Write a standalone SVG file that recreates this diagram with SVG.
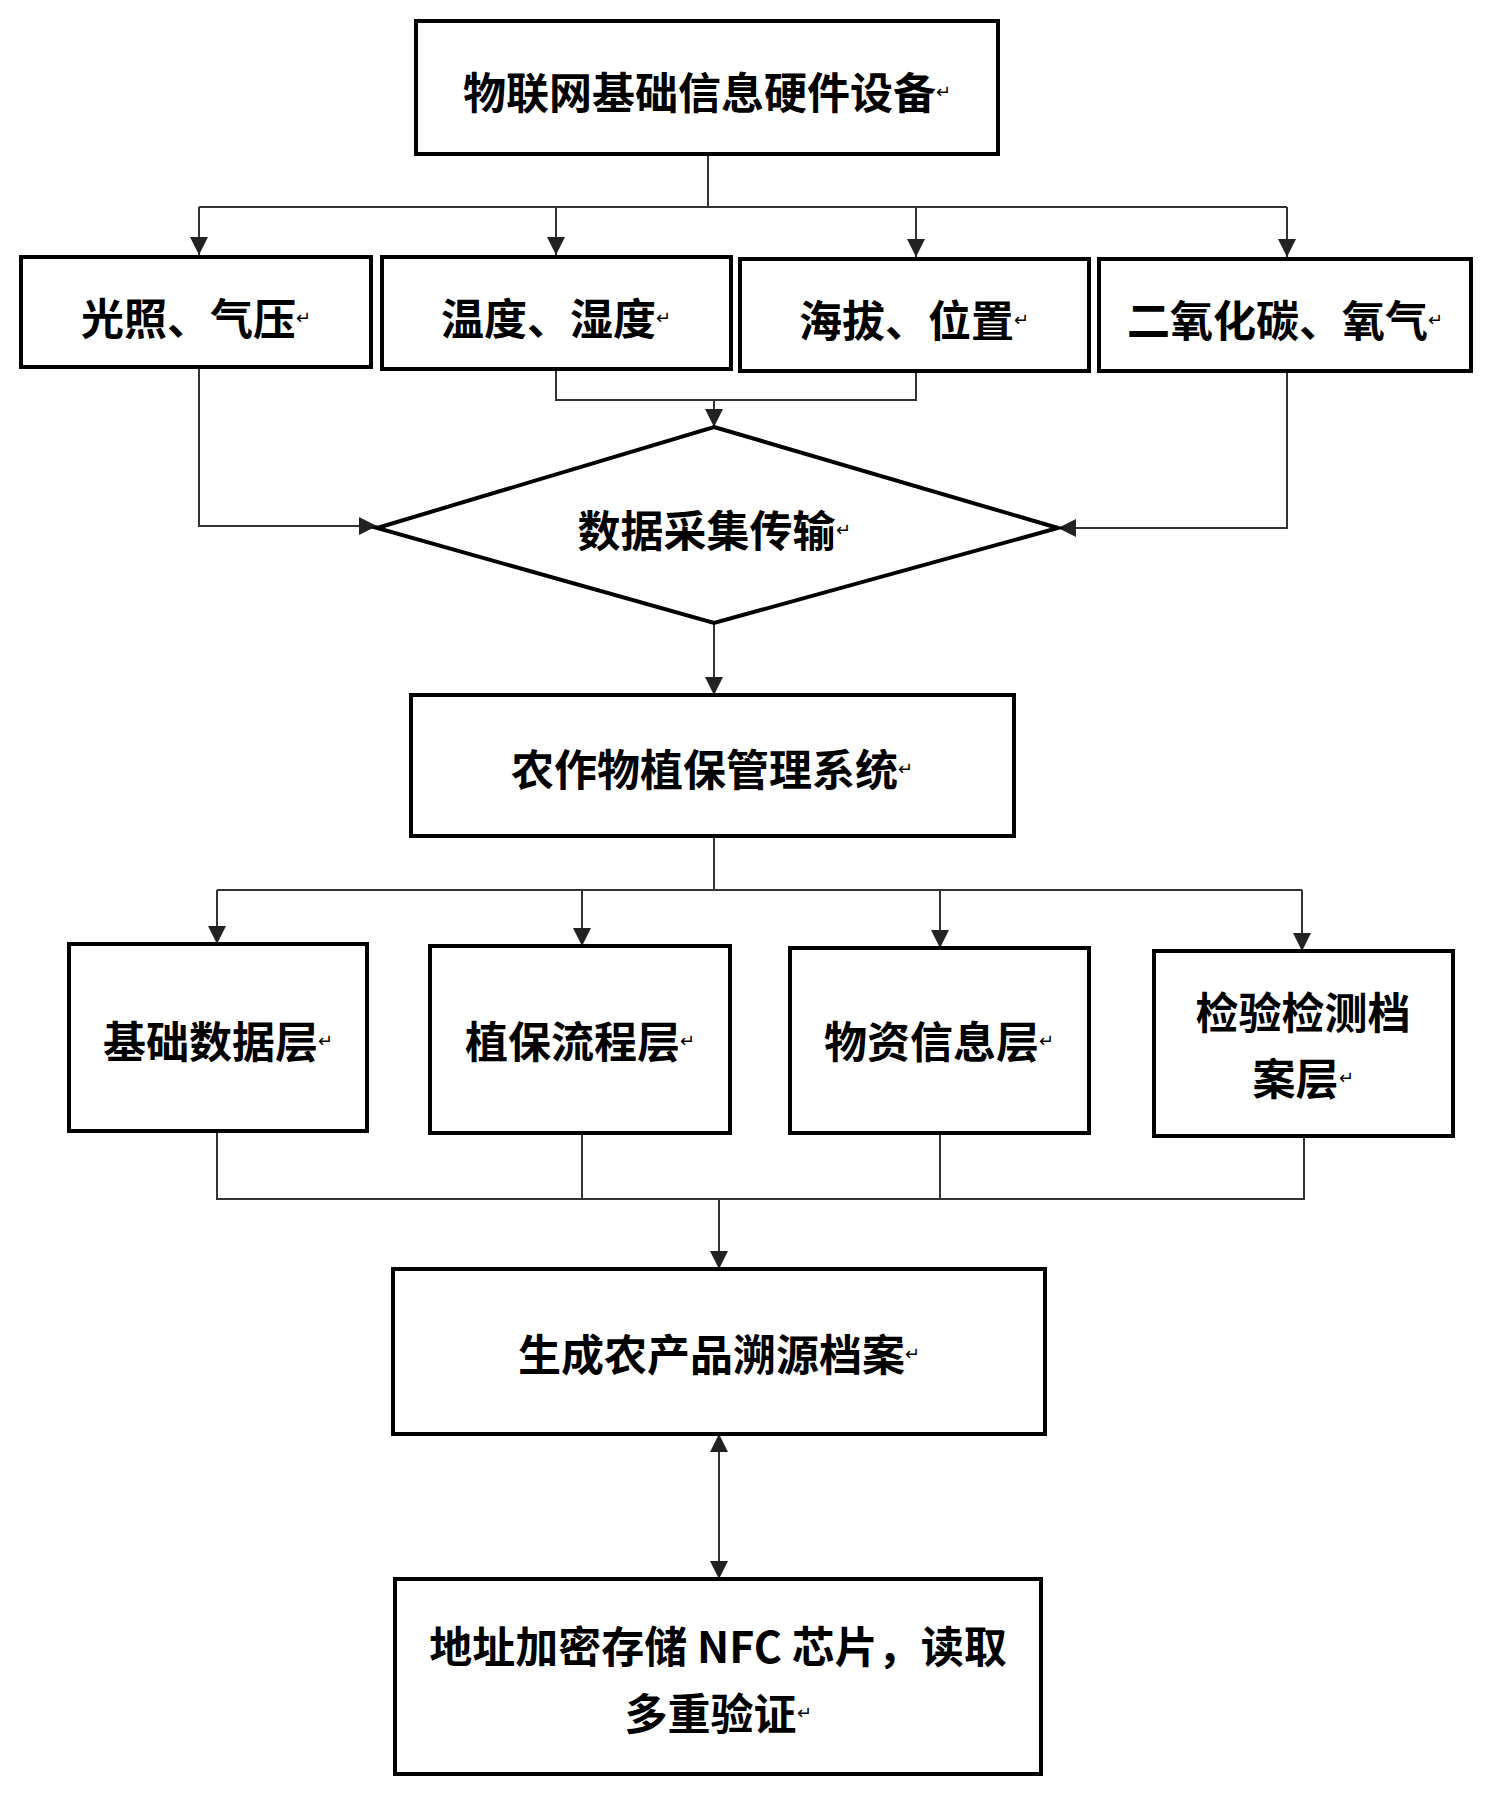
<svg xmlns="http://www.w3.org/2000/svg" width="1492" height="1804" viewBox="0 0 1492 1804">
<style>
.b{fill:#fff;stroke:#000;stroke-width:4}
.t{font-family:"Noto Sans CJK SC","Liberation Sans",sans-serif;font-size:43px;font-weight:bold;text-anchor:middle;dominant-baseline:central;fill:#000}
.r{font-size:18px;font-weight:normal}
.c{fill:none;stroke:#333;stroke-width:2}
</style>
<defs><marker id="m" viewBox="0 0 10 10" refX="10" refY="5" markerWidth="18" markerHeight="18" orient="auto-start-reverse" markerUnits="userSpaceOnUse"><path d="M0,0L10,5L0,10z" fill="#222"/></marker></defs>
<rect width="1492" height="1804" fill="#fff"/>
<g id="connectors">
<path class="c" d="M708,154V207M199,207H1287"/>
<path class="c" d="M199,207V255" marker-end="url(#m)"/>
<path class="c" d="M556,207V255" marker-end="url(#m)"/>
<path class="c" d="M916,207V257" marker-end="url(#m)"/>
<path class="c" d="M1287,207V257" marker-end="url(#m)"/>
<path class="c" d="M556,367V400H916V371"/>
<path class="c" d="M714,400V427" marker-end="url(#m)"/>
<path class="c" d="M199,367V526H377" marker-end="url(#m)"/>
<path class="c" d="M1287,371V528H1058" marker-end="url(#m)"/>
<path class="c" d="M714,623V695" marker-end="url(#m)"/>
<path class="c" d="M714,836V890M217,890H1302"/>
<path class="c" d="M217,890V944" marker-end="url(#m)"/>
<path class="c" d="M582,890V946" marker-end="url(#m)"/>
<path class="c" d="M940,890V948" marker-end="url(#m)"/>
<path class="c" d="M1302,890V951" marker-end="url(#m)"/>
<path class="c" d="M217,1131V1199H1304V1136M582,1133V1199M940,1133V1199"/>
<path class="c" d="M719,1199V1269" marker-end="url(#m)"/>
<path class="c" d="M719,1434V1579" marker-start="url(#m)" marker-end="url(#m)"/>
</g>
<g id="n1"><rect class="b" x="416" y="21" width="582" height="133"/><text class="t" x="707" y="90">物联网基础信息硬件设备<tspan class="r">↵</tspan></text></g>
<g id="n2"><rect class="b" x="21" y="257" width="350" height="110"/><text class="t" x="196" y="316">光照、气压<tspan class="r">↵</tspan></text></g>
<g id="n3"><rect class="b" x="382" y="257" width="349" height="112"/><text class="t" x="556" y="316">温度、湿度<tspan class="r">↵</tspan></text></g>
<g id="n4"><rect class="b" x="740" y="259" width="349" height="112"/><text class="t" x="914" y="318">海拔、位置<tspan class="r">↵</tspan></text></g>
<g id="n5"><rect class="b" x="1099" y="259" width="372" height="112"/><text class="t" x="1285" y="318">二氧化碳、氧气<tspan class="r">↵</tspan></text></g>
<g id="n6"><path class="b" stroke-width="5" d="M714,427L1058,528L714,623L377,528Z"/><text class="t" x="714" y="528">数据采集传输<tspan class="r">↵</tspan></text></g>
<g id="n7"><rect class="b" x="411" y="695" width="603" height="141"/><text class="t" x="712" y="767">农作物植保管理系统<tspan class="r">↵</tspan></text></g>
<g id="n8"><rect class="b" x="69" y="944" width="298" height="187"/><text class="t" x="218" y="1039">基础数据层<tspan class="r">↵</tspan></text></g>
<g id="n9"><rect class="b" x="430" y="946" width="300" height="187"/><text class="t" x="580" y="1039">植保流程层<tspan class="r">↵</tspan></text></g>
<g id="n10"><rect class="b" x="790" y="948" width="299" height="185"/><text class="t" x="939" y="1039">物资信息层<tspan class="r">↵</tspan></text></g>
<g id="n11"><rect class="b" x="1154" y="951" width="299" height="185"/><text class="t" x="1303" y="1010">检验检测档</text><text class="t" x="1303" y="1076">案层<tspan class="r">↵</tspan></text></g>
<g id="n12"><rect class="b" x="393" y="1269" width="652" height="165"/><text class="t" x="719" y="1352">生成农产品溯源档案<tspan class="r">↵</tspan></text></g>
<g id="n13"><rect class="b" x="395" y="1579" width="646" height="195"/><text class="t" x="718" y="1644">地址加密存储 NFC 芯片，读取</text><text class="t" x="718" y="1711">多重验证<tspan class="r">↵</tspan></text></g>
</svg>
